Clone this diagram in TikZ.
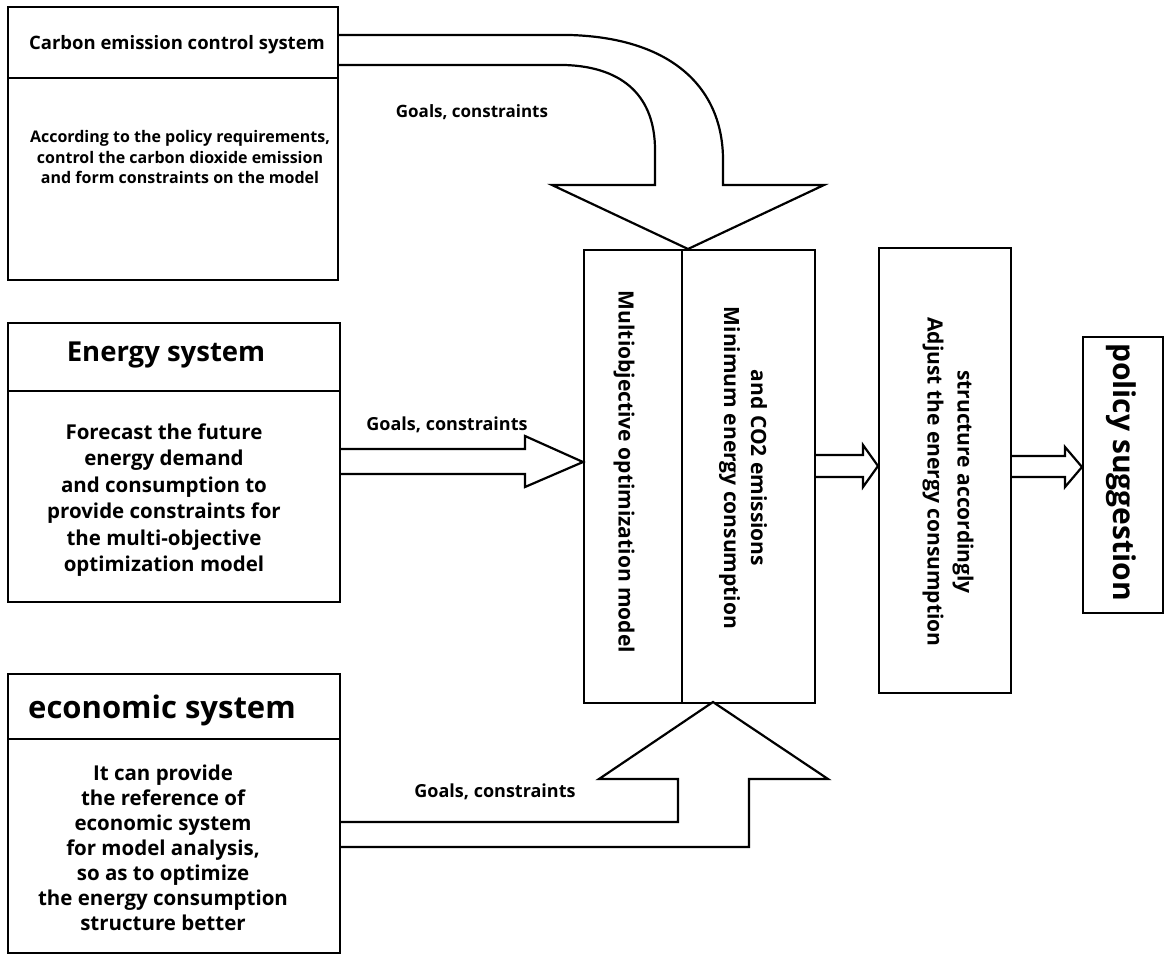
\documentclass[tikz,border=0pt]{standalone}
\usepackage{fontspec}
\setmainfont{Open Sans}
\usetikzlibrary{calc}
\newcommand\fsz[2]{\fontsize{#1}{#2}\selectfont}
\tikzset{
  box/.style={draw, line width=2.2pt, inner sep=0pt, anchor=north west},
  txt/.style={inner sep=0pt, align=center, font=\bfseries},
  blk/.style={draw, line width=2.2pt, line join=miter, fill=white},
  lbl/.style={inner sep=0pt, font=\bfseries\fsz{18}{21}}
}
\begin{document}
\begin{tikzpicture}[x=1pt,y=-1pt]
\useasboundingbox (0,0) rectangle (1164,954);
% boxes
\node[box, minimum width=330, minimum height=71] (carbonT) at (7,6) {};
\node[box, minimum width=330, minimum height=202] (carbonB) at (7,77) {};
\node[box, minimum width=332, minimum height=68] (energyT) at (7,322) {};
\node[box, minimum width=332, minimum height=211] (energyB) at (7,390) {};
\node[box, minimum width=332, minimum height=65] (econT) at (7,673) {};
\node[box, minimum width=332, minimum height=214] (econB) at (7,738) {};
\node[box, minimum width=98, minimum height=453] (multi) at (583,249) {};
\node[box, minimum width=133, minimum height=453] (minE) at (681,249) {};
\node[box, minimum width=132, minimum height=445] (adjust) at (878,247) {};
\node[box, minimum width=80, minimum height=276] (policy) at (1082,336) {};
% texts
\node[txt, font=\bfseries\fsz{18.5}{21}] at (177,45) {Carbon emission control system};
\node[txt, font=\bfseries\fsz{16}{20.5}] at (180,157) {According to the policy requirements,\\control the carbon dioxide emission\\and form constraints on the model};
\node[txt, font=\bfseries\fsz{27.5}{32}] at (166,355) {Energy system};
\node[txt, font=\bfseries\fsz{20.5}{26.5}] at (164,500) {Forecast the future\\energy demand\\and consumption to\\provide constraints for\\the multi-objective\\optimization model};
\node[txt, font=\bfseries\fsz{31}{34}] at (162,710) {economic system};
\node[txt, font=\bfseries\fsz{20.5}{25}] at (163,848) {It can provide\\the reference of\\economic system\\for model analysis,\\so as to optimize\\the energy consumption\\structure better};
\node[txt, rotate=-90, font=\bfseries\fsz{21}{27}] at (624,472) {Multiobjective optimization model};
\node[txt, rotate=-90, font=\bfseries\fsz{21}{27}] at (743,468) {and CO2 emissions\\Minimum energy consumption};
\node[txt, rotate=-90, font=\bfseries\fsz{21}{30}] at (948,482) {structure accordingly\\Adjust the energy consumption};
\node[txt, rotate=-90, font=\bfseries\fsz{30}{33}] at (1121,472) {policy suggestion};
% labels
\node[lbl, font=\bfseries\fsz{17}{20}] (l1) at (472,112) {Goals, constraints};
\node[lbl] (l2) at (447,425) {Goals, constraints};
\node[lbl] (l3) at (495,792) {Goals, constraints};
% block arrows
\coordinate (t1) at (688,249);
\draw[blk] (carbonT.east |- 0,35) -- (570,35) .. controls (672,38) and (723,88) .. (723,160)
  -- (723,185) -- (824,185) -- (t1) -- (552,185) -- (655,185) -- (655,150)
  .. controls (655,98) and (625,67) .. (565,65) -- (carbonT.east |- 0,65);
\draw[blk] (energyB.east |- 0,449) -- (525,449) -- (525,436) -- (multi.west |- 0,462)
  -- (525,487) -- (525,474) -- (energyB.east |- 0,474);
\draw[blk] (econB.east |- 0,822) -- (678,822) -- (678,779) -- (599,779) -- (713,702)
  -- (828,779) -- (749,779) -- (749,847) -- (econB.east |- 0,847);
\draw[blk] (minE.east |- 0,455) -- (863,455) -- (863,445) -- (adjust.west |- 0,466)
  -- (863,487) -- (863,477) -- (minE.east |- 0,477);
\draw[blk] (adjust.east |- 0,456) -- (1065,456) -- (1065,447) -- (policy.west |- 0,467)
  -- (1065,487) -- (1065,477) -- (adjust.east |- 0,477);
\end{tikzpicture}
\end{document}
